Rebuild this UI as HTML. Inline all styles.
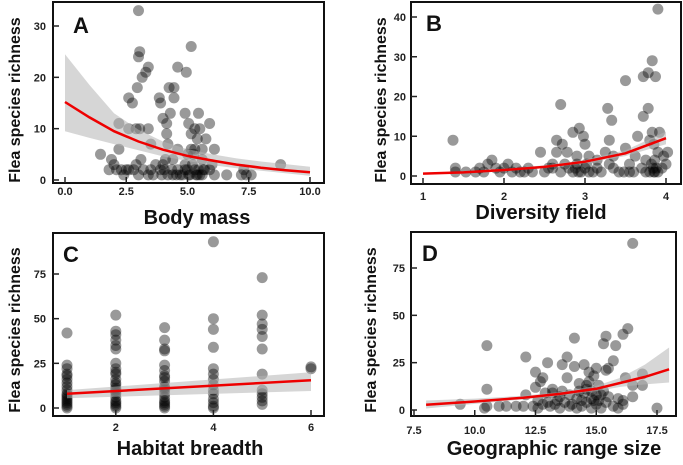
<!DOCTYPE html>
<html><head><meta charset="utf-8"><style>
body{margin:0;background:#fff;}
svg text{font-family:"Liberation Sans",sans-serif;font-weight:bold;}
</style></head><body>
<svg id="fig" width="683" height="460" viewBox="0 0 683 460" xmlns="http://www.w3.org/2000/svg"></svg>
<script>
// Panel A data
const aX=[3.0,3.05,3.0,5.15,3.4,3.3,4.6,4.95,3.15,2.95,4.25,4.45,2.6,2.75,3.85,3.9,4.45,4.3,5.45,4.9,4.0,4.15,5.05,5.9,5.3,2.2,2.6,2.9,3.05,3.4,4.15,4.2,5.15,5.75,5.5,5.6,6.1,3.5,2.2,1.45,1.9,4.6,4.1,5.0,5.4,5.3,3.1,3.7,4.0,4.4,4.6,4.9,5.2,5.6,6.0,1.8,2.1,2.3,2.5,2.4,2.8,3.0,3.2,3.4,3.6,3.9,4.2,4.4,4.7,4.9,5.1,5.3,5.5,5.7,5.9,6.1,6.6,7.2,7.4,7.6,8.8,7.3,5.4,5.6,5.0,4.8,3.5,2.6,2.0,4.05,5.25,5.45,3.95,4.35,5.05,5.35,5.65,2.9,4.55,5.15];
const aY=[33,25,24,26,22,21,22,21,20,18,18,18,16,15,16,15,16,13,13,13,12,11,11,11,10,11,10,10,10,10,9,7,9,8,10,6,6,7,6,5,4,6,4,5,8,6,4,3,3,4,2,3,3,4,3,2,2,2,2,1,2,1,2,1,1,2,1,1,1,2,1,2,1,2,2,1,1,1,1,1,3,2,1,1,2,1,2,2,3,2,5,2,1,2,1,1,2,3,1,6];
const aFitX=[0,1,2,3,4,5,6,7,8,9,10];
const aFitY=[15.2,12.2,9.5,7.5,5.9,4.7,3.8,3.0,2.4,1.9,1.5];
const aLo=[9.5,8.2,7.0,5.8,4.6,3.7,2.9,2.3,1.8,1.3,0.8];
const aHi=[24.5,18.5,13,9.8,7.5,6.0,5.0,4.2,3.6,3.1,2.6];
// Panel B data
const bX=[3.9,3.83,3.78,3.72,3.87,3.5,2.7,3.78,3.28,3.72,3.33,2.93,2.85,2.98,3.0,2.65,2.72,3.3,3.65,3.83,3.92,1.37,2.45,2.78,2.65,2.9,3.05,3.15,3.25,3.35,3.5,3.55,3.62,3.75,3.85,3.9,3.97,4.0,4.02,3.8,3.85,3.9,3.88,3.82,3.48,3.55,3.6,3.42,1.4,1.4,1.53,1.7,1.75,1.85,1.8,1.9,1.95,2.05,2.15,2.2,2.3,2.35,2.5,2.6,2.7,2.8,2.85,2.9,2.95,3.0,3.05,3.1,3.15,3.2,3.3,3.35,2.6,2.75,2.55,1.65,2.0,2.1,2.25,3.7,3.75,3.95,3.86,3.84,2.88,2.92,3.02,3.86,3.8];
const bY=[42,29,26,25,25,24,18,17,17,15,14,12,11,10,8,9,8,9,10,11,11,9,6,6,6,5,5,4,6,5,7,3,5,4,8,6,5,3,6,1,1,1,2,3,1,1,1,1,2,1,1,2,1,4,3,2,1,3,2,1,2,1,1,2,1,2,1,3,1,2,1,1,2,1,3,2,3,3,2,1,2,1,1,2,1,2,1,2,2,1,3,4,9];
const bFitX=[1,1.5,2,2.5,3,3.5,4];
const bFitY=[0.6,0.9,1.5,2.3,3.6,5.7,9.5];
const bLo=[0.4,0.7,1.2,2.0,3.2,5.0,8.0];
const bHi=[0.8,1.1,1.8,2.7,4.1,6.5,11.2];
// Panel C data
const cX=[1,1,1,1,1,1,1,1,1,1,1,1,1,1,1,1,2,2,2,2,2,2,2,2,2,2,2,2,2,2,2,2,2,2,2,2,3,3,3,3,3,3,3,3,3,3,3,3,3,3,3,3,3,4,4,4,4,4,4,4,4,4,4,4,4,4,4,5,5,5,5,5,5,5,5,5,5,5,5,6,6,1,1,2,2,2,3,3];
const cY=[42,24,22,19,16,14,12,10,8,6,5,4,3,2,1,0,52,43,41,38,35,33,25,22,19,16,13,10,8,6,4,3,2,1,0,11,45,38,33,32,24,21,18,15,12,10,8,6,4,3,2,1,0,93,50,44,34,22,19,16,13,10,8,5,3,1,0,73,52,47,44,40,33,19,10,8,6,4,2,22,23,18,7,20,14,9,17,11];
const cFitX=[1,6];
const cFitY=[8,15.5];
const cLo=[5.5,9.5];
const cHi=[10,20];
// Panel D data
const dX=[16.5,16.3,16.1,15.4,15.3,15.8,10.5,14.1,13.8,12.1,15.7,13.0,13.6,14.1,14.5,15.0,15.4,15.5,12.5,12.7,12.8,13.8,14.7,14.9,16.2,16.9,10.5,12.5,13.2,14.3,14.6,15.1,15.3,16.5,16.9,12.1,12.9,13.2,13.5,13.9,14.2,14.5,14.8,15.0,15.5,15.9,16.1,16.5,9.4,10.4,10.5,11.0,11.3,11.7,12.0,12.4,12.6,12.8,13.0,13.1,13.3,13.5,13.7,13.9,14.0,14.2,14.4,14.6,14.8,15.0,15.2,15.4,15.7,15.9,16.1,17.5,14.4,14.9,13.4,12.6,14.6,14.7,15.2,13.6,14.3,14.8,15.1];
const dY=[88,43,40,39,35,34,34,38,28,28,26,25,24,23,24,22,21,22,20,15,17,17,20,18,17,19,11,12,11,14,11,13,10,13,13,8,9,9,7,8,6,9,10,8,7,6,5,7,3,1,2,2,2,2,2,2,1,3,4,2,3,1,4,2,3,1,2,4,1,3,1,4,2,1,3,1,5,5,5,5,13,15,8,10,10,6,5];
const dFitX=[8,10,12,13.5,15,16,17,18];
const dFitY=[2.8,4.5,6.5,8.5,11.2,14.3,17.5,21.5];
const dLo=[0.8,3.2,5.6,7.6,10,12.2,13.5,14.5];
const dHi=[5,6,7.5,9.5,12.8,17,24,33];

const NS="http://www.w3.org/2000/svg";
const svg=document.getElementById('fig');
function mk(tag,attrs,parent){const e=document.createElementNS(NS,tag);for(const k in attrs)e.setAttribute(k,attrs[k]);(parent||svg).appendChild(e);return e;}

const panels=[
 {id:'a',letter:'A',box:[53,2,324,183],xd:[0,10],xp:[65,310],yd:[0,30],yp:[180,26],xt:[0,2.5,5,7.5,10],xl:['0.0','2.5','5.0','7.5','10.0'],yt:[0,10,20,30],xs:aX,ys:aY,fx:aFitX,fy:aFitY,lo:aLo,hi:aHi,xtitle:'Body mass',xtx:197,xty:224,ytx:20,yty:100,tly:195,ylx:46,lx:73,ly:33},
 {id:'b',letter:'B',box:[411,2,681,184],xd:[1,4],xp:[423,666],yd:[0,40],yp:[176,17],xt:[1,2,3,4],xl:['1','2','3','4'],yt:[0,10,20,30,40],xs:bX,ys:bY,fx:bFitX,fy:bFitY,lo:bLo,hi:bHi,xtitle:'Diversity field',xtx:541,xty:219,ytx:386,yty:100,tly:200,ylx:406,lx:426,ly:31},
 {id:'c',letter:'C',box:[53,233,324,416],xd:[1,6],xp:[67,311],yd:[0,75],yp:[408,274],xt:[2,4,6],xl:['2','4','6'],yt:[0,25,50,75],xs:cX,ys:cY,fx:cFitX,fy:cFitY,lo:cLo,hi:cHi,xtitle:'Habitat breadth',xtx:190,xty:455,ytx:20,yty:330,tly:431,ylx:46,lx:63,ly:262},
 {id:'d',letter:'D',box:[411,232,676,416],xd:[7.5,17.5],xp:[414,657],yd:[0,75],yp:[410,268],xt:[7.5,10,12.5,15,17.5],xl:['7.5','10.0','12.5','15.0','17.5'],yt:[0,25,50,75],xs:dX,ys:dY,fx:dFitX,fy:dFitY,lo:dLo,hi:dHi,xtitle:'Geographic range size',xtx:554,xty:455,ytx:376,yty:330,tly:434,ylx:405,lx:422,ly:261}
];

panels.forEach(p=>{
  const sx=v=>p.xp[0]+(v-p.xd[0])*(p.xp[1]-p.xp[0])/(p.xd[1]-p.xd[0]);
  const sy=v=>p.yp[0]+(v-p.yd[0])*(p.yp[1]-p.yp[0])/(p.yd[1]-p.yd[0]);
  const g=mk('g',{});
  
  
  const pg=mk('g',{},g);
  
  
  p.xs.forEach((x,i)=>{
    const c=mk('circle',{cx:sx(x).toFixed(1),cy:sy(p.ys[i]).toFixed(1),r:5.5,fill:'rgba(0,0,0,0.4)'},pg);
    
    
  });
  let d='M'+p.fx.map((x,i)=>sx(x).toFixed(1)+','+sy(p.hi[i]).toFixed(1)).join('L');
  for(let i=p.fx.length-1;i>=0;i--) d+='L'+sx(p.fx[i]).toFixed(1)+','+sy(p.lo[i]).toFixed(1);
  const band=mk('path',{d:d+'Z',fill:'rgba(180,180,180,0.55)'},g);
  
  
  const line=mk('polyline',{points:p.fx.map((x,i)=>sx(x).toFixed(1)+','+sy(p.fy[i]).toFixed(1)).join(' '),fill:'none',stroke:'#ee0000','stroke-width':2.5},g);
  
  
  const [x0,y0,x1,y1]=p.box;
  const fr=mk('rect',{x:x0,y:y0,width:x1-x0,height:y1-y0,fill:'none',stroke:'#111','stroke-width':2},g);
  
  
  p.xt.forEach((v,i)=>{
    const x=sx(v);
    const t=mk('line',{x1:x,x2:x,y1:y1,y2:y1-6,stroke:'#222','stroke-width':1.5},g);
    
    
    const tl=mk('text',{x:x,y:p.tly,'text-anchor':'middle','font-size':11,fill:'#222'},g);
    tl.textContent=p.xl[i];
    
    
  });
  p.yt.forEach(v=>{
    const y=sy(v);
    const t=mk('line',{x1:x0,x2:x0+6,y1:y,y2:y,stroke:'#222','stroke-width':1.5},g);
    
    
    const tl=mk('text',{x:p.ylx,y:y+4,'text-anchor':'end','font-size':11,fill:'#222'},g);
    tl.textContent=String(v);
    
    
  });
  const xt=mk('text',{x:p.xtx,y:p.xty,'text-anchor':'middle','font-size':20,fill:'#111'},g);
  xt.textContent=p.xtitle;
  
  
  const yt=mk('text',{x:p.ytx,y:p.yty,'text-anchor':'middle','font-size':16,fill:'#111',transform:'rotate(-90 '+p.ytx+' '+p.yty+')'},g);
  yt.textContent='Flea species richness';
  
  
  const lt=mk('text',{x:p.lx,y:p.ly,'font-size':22,fill:'#111'},g);
  lt.textContent=p.letter;
  
  
});
</script>
</body></html>
